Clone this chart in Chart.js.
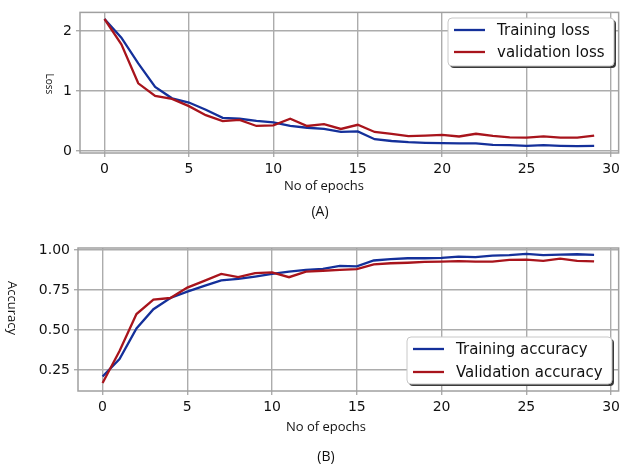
<!DOCTYPE html>
<html>
<head>
<meta charset="utf-8">
<script src="https://cdn.jsdelivr.net/npm/chart.js@4"></script>
<style>
  html, body { margin: 0; padding: 0; background: #fff; }
  #wrap { position: relative; width: 624px; height: 468px; }
  canvas { position: absolute; left: 0; }
  #lossChart { top: 0; }
  #accChart { top: 234px; }
</style>
</head>
<body>
<div id="wrap">
  <canvas id="lossChart" width="624" height="234"></canvas>
  <canvas id="accChart" width="624" height="234"></canvas>
</div>
<script>
// ── Training history ──
const EPOCHS = [0,1,2,3,4,5,6,7,8,9,10,11,12,13,14,15,16,17,18,19,20,21,22,23,24,25,26,27,28,29];

const TRAIN_LOSS = [2.20,1.89,1.46,1.07,0.88,0.81,0.69,0.555,0.54,0.505,0.48,0.42,0.39,0.37,0.32,
                    0.33,0.20,0.17,0.15,0.14,0.135,0.13,0.13,0.105,0.10,0.09,0.10,0.09,0.085,0.09];
const VAL_LOSS   = [2.20,1.78,1.13,0.92,0.87,0.75,0.60,0.50,0.52,0.42,0.43,0.54,0.42,0.45,0.37,
                    0.44,0.32,0.29,0.25,0.26,0.27,0.245,0.29,0.255,0.23,0.225,0.245,0.225,0.225,0.26];

const TRAIN_ACC  = [0.21,0.32,0.51,0.63,0.70,0.74,0.776,0.81,0.82,0.834,0.85,0.865,0.876,0.882,0.90,
                    0.897,0.934,0.942,0.948,0.948,0.95,0.958,0.955,0.965,0.967,0.975,0.967,0.971,0.973,0.969];
const VAL_ACC    = [0.17,0.37,0.60,0.69,0.70,0.765,0.807,0.85,0.83,0.855,0.86,0.83,0.865,0.87,0.876,
                    0.88,0.91,0.917,0.92,0.925,0.927,0.93,0.927,0.927,0.938,0.94,0.932,0.946,0.932,0.928];

const X_TICKS    = [0, 5, 10, 15, 20, 25, 30];
const LOSS_TICKS = [0, 1, 2];
const ACC_TICKS  = [0.25, 0.50, 0.75, 1.00];

// ── Style ──
const BLUE = '#14309a';
const RED  = '#a8141c';
const GRID = '#acacac';
const TICK_FONT = { family: 'DejaVu Sans', size: 14 };
const LABEL_FAMILY = '"Open Sans", "DejaVu Sans", sans-serif';

const points = ys => EPOCHS.map((e, i) => ({ x: e, y: ys[i] }));

// ── Frame, axis titles, caption and boxed legend ──
const decor = {
  id: 'decor',
  beforeDatasetsDraw(chart) {
    const { ctx, chartArea: a } = chart;
    ctx.save();
    ctx.strokeStyle = '#a0a0a0';
    ctx.lineWidth = 1.5;
    ctx.strokeRect(a.left, a.top, a.width, a.height);
    ctx.restore();
  },
  afterDraw(chart, args, o) {
    const { ctx } = chart;
    ctx.save();
    ctx.fillStyle = '#111';
    ctx.textAlign = 'center';
    ctx.textBaseline = 'middle';

    // y title, rotated clockwise
    ctx.save();
    ctx.translate(o.yTitleX, o.yTitleY);
    ctx.rotate(Math.PI / 2);
    ctx.font = `${o.yTitleSize}px ${LABEL_FAMILY}`;
    ctx.fillText(o.yTitle, 0, 0);
    ctx.restore();

    ctx.font = `13px ${LABEL_FAMILY}`;
    ctx.fillText(o.xTitle, o.xTitleX, o.xTitleY);
    ctx.font = `14px ${LABEL_FAMILY}`;
    ctx.fillText(o.caption, o.captionX, o.captionY);

    // legend box with drop shadow
    const L = o.legend;
    const r = 4;
    const box = (x, y) => {
      ctx.beginPath();
      ctx.roundRect(x, y, L.w, L.h, r);
    };
    box(L.x + 2, L.y + 2);
    ctx.fillStyle = '#3a3a3a';
    ctx.fill();
    box(L.x, L.y);
    ctx.fillStyle = '#fff';
    ctx.fill();
    ctx.strokeStyle = '#c8c8c8';
    ctx.lineWidth = 1;
    ctx.stroke();

    ctx.textAlign = 'left';
    ctx.font = '15px "DejaVu Sans"';
    chart.data.datasets.forEach((ds, i) => {
      const y = L.y + L.row0 + i * L.rowGap;
      ctx.strokeStyle = ds.borderColor;
      ctx.lineWidth = 2.3;
      ctx.beginPath();
      ctx.moveTo(L.x + 6, y);
      ctx.lineTo(L.x + 37, y);
      ctx.stroke();
      ctx.fillStyle = '#111';
      ctx.fillText(ds.label, L.x + 49, y + 1);
    });
    ctx.restore();
  }
};

function makeChart(id, train, val, labels, yTicks, yMin, yMax, fmt, frame, deco) {
  return new Chart(document.getElementById(id), {
    type: 'line',
    data: {
      datasets: [
        { label: labels[0], data: points(train), borderColor: BLUE, borderWidth: 2.3, order: 1 },
        { label: labels[1], data: points(val),   borderColor: RED,  borderWidth: 2.3, order: 0 },
      ],
    },
    options: {
      responsive: false,
      animation: false,
      events: [],
      elements: { point: { radius: 0 }, line: { tension: 0, fill: false } },
      layout: { padding: { left: 0, top: frame.top, right: frame.right, bottom: 0 } },
      plugins: { legend: { display: false }, tooltip: { enabled: false }, decor: deco },
      scales: {
        x: {
          type: 'linear', min: -1.45, max: 30.45,
          afterBuildTicks: s => { s.ticks = X_TICKS.map(v => ({ value: v })); },
          afterFit: s => { s.height = frame.xHeight; },
          grid: { color: GRID, lineWidth: 1.4, tickLength: 4, tickColor: GRID },
          border: { display: false },
          ticks: { font: TICK_FONT, color: '#111', padding: 4, maxRotation: 0, autoSkip: false },
        },
        y: {
          min: yMin, max: yMax,
          afterBuildTicks: s => { s.ticks = yTicks.map(v => ({ value: v })); },
          afterFit: s => { s.width = frame.yWidth; },
          grid: { color: GRID, lineWidth: 1.4, tickLength: 4, tickColor: GRID },
          border: { display: false },
          ticks: { font: TICK_FONT, color: '#111', padding: 4, callback: fmt },
        },
      },
    },
    plugins: [decor],
  });
}

// ── (A) loss ──
makeChart('lossChart', TRAIN_LOSS, VAL_LOSS, ['Training loss', 'validation loss'],
  LOSS_TICKS, -0.03, 2.31, v => String(v),
  { top: 12, right: 3, yWidth: 80, xHeight: 81 },
  {
    yTitle: 'Loss', yTitleX: 49, yTitleY: 84, yTitleSize: 10,
    xTitle: 'No of epochs', xTitleX: 324, xTitleY: 186,
    caption: '(A)', captionX: 320, captionY: 212,
    legend: { x: 448, y: 18, w: 166, h: 48, row0: 12, rowGap: 22 },
  });

// ── (B) accuracy ──
makeChart('accChart', TRAIN_ACC, VAL_ACC, ['Training accuracy', 'Validation accuracy'],
  ACC_TICKS, 0.12, 1.012, v => v.toFixed(2),
  { top: 14, right: 4, yWidth: 78, xHeight: 77 },
  {
    yTitle: 'Accuracy', yTitleX: 12, yTitleY: 74, yTitleSize: 13,
    xTitle: 'No of epochs', xTitleX: 326, xTitleY: 193,
    caption: '(B)', captionX: 326, captionY: 223,
    legend: { x: 407, y: 103, w: 205, h: 47, row0: 12, rowGap: 23 },
  });
</script>
</body>
</html>
